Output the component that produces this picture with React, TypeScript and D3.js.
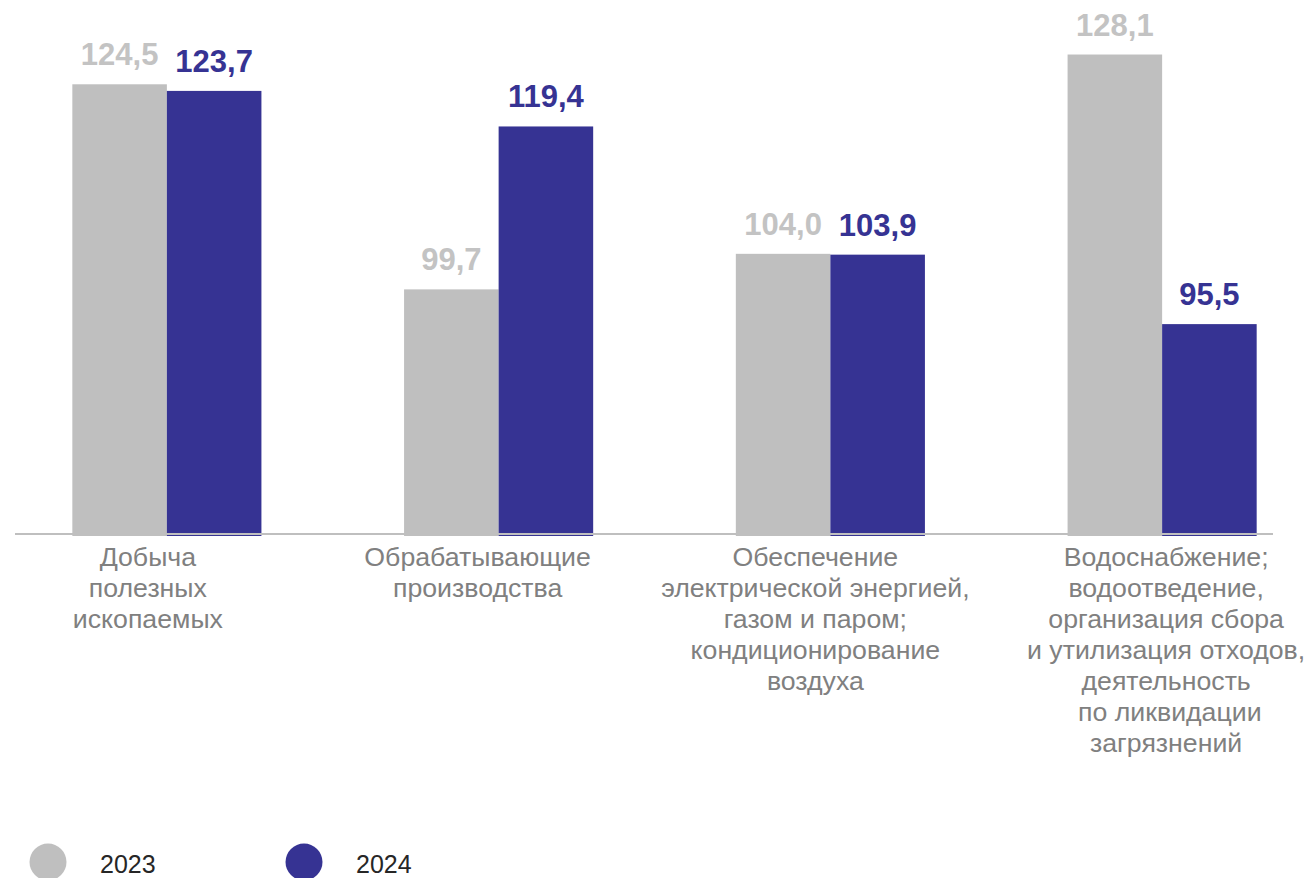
import React from "react";
import * as d3 from "d3";

const categories = [
  ["Добыча", "полезных", "ископаемых"],
  ["Обрабатывающие", "производства"],
  ["Обеспечение", "электрической энергией,", "газом и паром;", "кондиционирование", "воздуха"],
  ["Водоснабжение;", "водоотведение,", "организация сбора", "и утилизация отходов,", "деятельность", " по ликвидации", "загрязнений"],
];
const seriesNames = ["2023", "2024"];
const values2023 = [124.5, 99.7, 104.0, 128.1];
const values2024 = [123.7, 119.4, 103.9, 95.5];

const W = 1312;
const H = 878;
const colors = ["#bfbfbf", "#363393"];
const labelColors = ["#c3c3c3", "#363393"];
const labelShift = [-19, -21, -15, 4];

const fmt = (v: number) => v.toFixed(1).replace(".", ",");

export default function App() {
  const keys = categories.map((_, i) => String(i));
  const x = d3.scaleBand<string>().domain(keys).range([1, 1328]).paddingInner(0.43).paddingOuter(0.215);
  const xi = d3.scaleBand<string>().domain(seriesNames).range([0, x.bandwidth()]).padding(0);
  const y = d3.scaleLinear().domain([70, 130]).range([535, 38.8]);
  const series = [values2023, values2024];
  const font = "'Liberation Sans', Arial, sans-serif";

  return (
    <svg width={W} height={H} style={{ position: "absolute", left: 0, top: 0, background: "#fff" }} fontFamily={font}>
      {keys.map((k, i) => (
        <g key={k} transform={`translate(${x(k)},0)`}>
          {seriesNames.map((s, j) => {
            const v = series[j][i];
            const bx = xi(s)!;
            return (
              <g key={s}>
                <rect x={bx} y={y(v)} width={xi.bandwidth()} height={y(70) + 1 - y(v)} fill={colors[j]} />
                <text
                  x={bx + xi.bandwidth() / 2}
                  y={y(v) - 19}
                  textAnchor="middle"
                  fontSize={31}
                  fontWeight="bold"
                  fill={labelColors[j]}
                >
                  {fmt(v)}
                </text>
              </g>
            );
          })}
        </g>
      ))}
      <line x1={15} x2={1273} y1={534} y2={534} stroke="#bfbfbf" strokeWidth={2} />
      {keys.map((k, i) => (
        <text
          key={"c" + k}
          x={x(k)! + x.bandwidth() / 2 + labelShift[i]}
          y={566}
          textAnchor="middle"
          fontSize={26.7}
          fill="#808080"
          style={{ whiteSpace: "pre" }}
        >
          {categories[i].map((line, li) => (
            <tspan key={li} x={x(k)! + x.bandwidth() / 2 + labelShift[i]} dy={li === 0 ? 0 : 31}>
              {line}
            </tspan>
          ))}
        </text>
      ))}
      {seriesNames.map((s, j) => (
        <g key={"l" + s} transform={`translate(${48 + j * 256},862)`}>
          <circle r={18.5} fill={colors[j]} />
          <text x={52} y={11} fontSize={25} fill="#262626">
            {s}
          </text>
        </g>
      ))}
    </svg>
  );
}
